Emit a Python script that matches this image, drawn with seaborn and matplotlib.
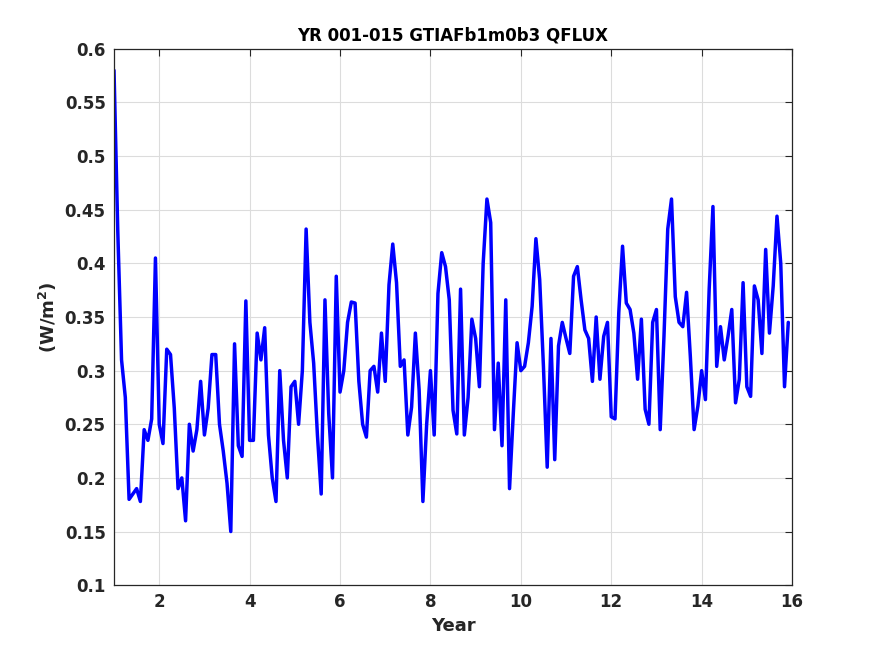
import numpy as np
import pandas as pd
import seaborn as sns
import matplotlib
matplotlib.use('Agg')
import matplotlib.pyplot as plt

# monthly QFLUX, years 1-15
qflux = [
    0.58, 0.43, 0.31, 0.275, 0.18, 0.185, 0.19, 0.178, 0.245, 0.235, 0.255, 0.405,
    0.25, 0.232, 0.32, 0.315, 0.265, 0.19, 0.2, 0.16, 0.25, 0.225, 0.245, 0.29,
    0.24, 0.265, 0.315, 0.315, 0.25, 0.225, 0.195, 0.15, 0.325, 0.23, 0.22, 0.365,
    0.235, 0.235, 0.335, 0.31, 0.34, 0.24, 0.2, 0.178, 0.30, 0.235, 0.20, 0.285,
    0.29, 0.25, 0.30, 0.432, 0.345, 0.307, 0.24, 0.185, 0.366, 0.26, 0.2, 0.388,
    0.28, 0.30, 0.345, 0.364, 0.363, 0.29, 0.25, 0.238, 0.30, 0.304, 0.28, 0.335,
    0.29, 0.38, 0.418, 0.382, 0.304, 0.31, 0.24, 0.266, 0.335, 0.282, 0.178, 0.25,
    0.30, 0.24, 0.372, 0.41, 0.397, 0.366, 0.263, 0.241, 0.376, 0.24, 0.275, 0.348,
    0.33, 0.285, 0.40, 0.46, 0.438, 0.245, 0.307, 0.23, 0.366, 0.19, 0.26, 0.326,
    0.30, 0.304, 0.326, 0.36, 0.423, 0.385, 0.304, 0.21, 0.33, 0.217, 0.323, 0.345,
    0.33, 0.316, 0.388, 0.397, 0.366, 0.338, 0.33, 0.29, 0.35, 0.292, 0.332, 0.345,
    0.257, 0.255, 0.354, 0.416, 0.363, 0.357, 0.335, 0.292, 0.348, 0.264, 0.25, 0.345,
    0.357, 0.245, 0.332, 0.432, 0.46, 0.369, 0.345, 0.341, 0.373, 0.313, 0.245, 0.267,
    0.30, 0.273, 0.376, 0.453, 0.304, 0.341, 0.31, 0.332, 0.357, 0.27, 0.292, 0.382,
    0.285, 0.276, 0.379, 0.366, 0.316, 0.413, 0.335, 0.379, 0.444, 0.40, 0.285, 0.345,
]
year = 1 + np.arange(len(qflux)) / 12.0

xticks = [2, 4, 6, 8, 10, 12, 14, 16]
yticks = [0.1, 0.15, 0.2, 0.25, 0.3, 0.35, 0.4, 0.45, 0.5, 0.55, 0.6]
ytick_labels = ['0.1', '0.15', '0.2', '0.25', '0.3', '0.35', '0.4', '0.45', '0.5', '0.55', '0.6']

df = pd.DataFrame({'year': year, 'qflux': qflux})

sns.set_style('white')
plt.rcParams['font.family'] = ['DejaVu Sans']
plt.rcParams['font.weight'] = 'bold'

fig = plt.figure(figsize=(8.75, 6.56), dpi=100)
ax = fig.add_axes([0.1303, 0.108, 0.7749, 0.8175])

sns.lineplot(data=df, x='year', y='qflux', color='#0000ff', linewidth=2.5, ax=ax)

ax.set_xlim(1, 16)
ax.set_ylim(0.1, 0.6)
ax.set_xticks(xticks)
ax.set_yticks(yticks)
ax.set_yticklabels(ytick_labels)
ax.grid(True, color='#dcdcdc', linewidth=0.8)
ax.set_axisbelow(True)
ax.tick_params(direction='in', length=5, width=0.8, colors='#262626',
               labelsize=12, top=True, right=True, pad=6)
for lab in ax.get_xticklabels() + ax.get_yticklabels():
    lab.set_fontweight('bold')
for s in ax.spines.values():
    s.set_color('#262626')
    s.set_linewidth(0.9)
    s.set_visible(True)

ax.set_xlabel('Year', fontsize=13, fontweight='bold', color='#262626', labelpad=4)
ax.set_ylabel('(W/m$^\\mathbf{2}$)', fontsize=13, fontweight='bold', color='#262626', labelpad=4)
ax.set_title('YR 001-015 GTIAFb1m0b3 QFLUX', fontsize=12, fontweight='bold', color='black', pad=6)

fig.savefig('out.png', dpi=100)
